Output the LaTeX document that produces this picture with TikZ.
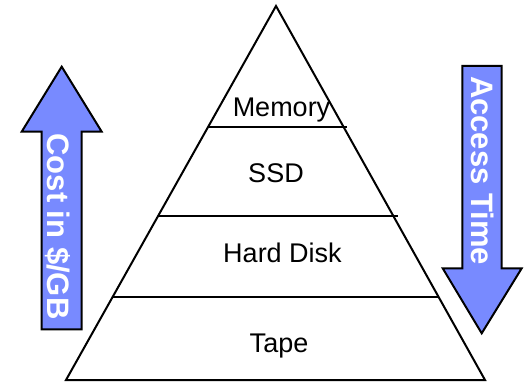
\documentclass[tikz,border=0pt]{standalone}
\usepackage{fontspec}
\setmainfont{Liberation Sans}
\definecolor{arrowblue}{RGB}{120,138,255}
\begin{document}
\begin{tikzpicture}[x=1pt,y=-1pt,
  outline/.style={draw=black,line width=2pt,line join=miter},
  bigarrow/.style={outline,fill=arrowblue},
  lvl/.style={font=\fontsize{27}{27}\selectfont,anchor=base,inner sep=0pt},
  arrtext/.style={font=\bfseries\fontsize{31}{31}\selectfont,text=white,rotate=-90,anchor=base,inner sep=0pt}]
\useasboundingbox (0,0) rectangle (524,385);
% pyramid
\coordinate (apex) at (276,6);
\coordinate (bl) at (66,380);
\coordinate (br) at (485,380);
\draw[outline] (apex) -- (br) -- (bl) -- cycle;
\coordinate (m1) at (208,127); \coordinate (m2) at (347,127);
\coordinate (s1) at (158,216); \coordinate (s2) at (398,216);
\coordinate (h1) at (113,297); \coordinate (h2) at (438,297);
\draw[outline] (m1) -- (m2);
\draw[outline] (s1) -- (s2);
\draw[outline] (h1) -- (h2);
% labels
\node[lvl] (mem) at (281.5,117) {Memory};
\node[lvl] (ssd) at (276,182) {SSD};
\node[lvl] (hdd) at (282.5,262) {Hard Disk};
\node[lvl] (tape) at (279,352) {Tape};
% left arrow (up)
\draw[bigarrow] (61.7,66.7) -- (101.7,131.7) -- (81.7,131.7) -- (81.7,329.3)
  -- (41.7,329.3) -- (41.7,131.7) -- (21.7,131.7) -- cycle;
\node[arrtext] (cost) at (47,226.5) {Cost in \$/GB};
% right arrow (down)
\draw[bigarrow] (462.3,66) -- (501.7,66) -- (501.7,268.3) -- (521.7,268.3)
  -- (481.7,333.3) -- (442.7,268.3) -- (462.3,268.3) -- cycle;
\node[arrtext] (access) at (471.5,170.5) {Access Time};
\end{tikzpicture}
\end{document}
